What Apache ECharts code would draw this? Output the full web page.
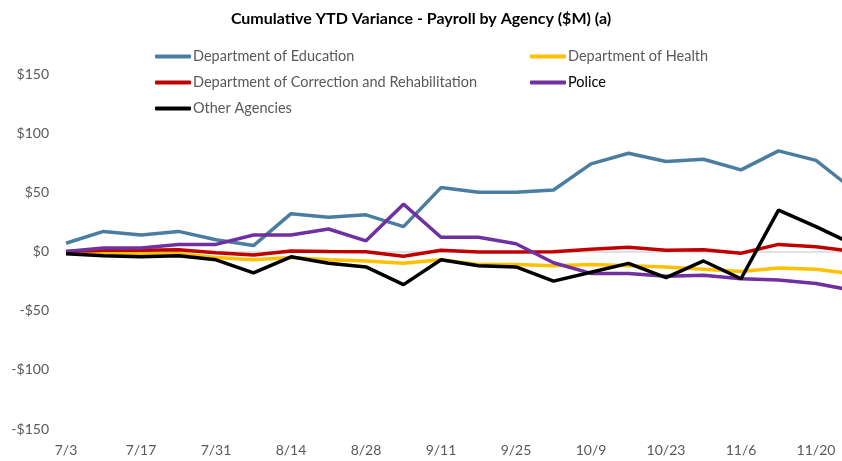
<!DOCTYPE html>
<html>
<head>
<meta charset="utf-8">
<script src="https://cdn.jsdelivr.net/npm/echarts@6/dist/echarts.min.js"></script>
<style>
  html, body { margin: 0; padding: 0; background: #fff; }
  #chart { width: 842px; height: 461px; }
</style>
</head>
<body>
<div id="chart"></div>
<script>
// weekly dates (last week falls just past the right edge)
const weeks = ["7/3", "7/10", "7/17", "7/24", "7/31", "8/7", "8/14", "8/21", "8/28", "9/4",
  "9/11", "9/18", "9/25", "10/2", "10/9", "10/16", "10/23", "10/30", "11/6", "11/13", "11/20", "11/27"];

const education = [7, 17, 14, 17, 10, 5, 32, 29, 31, 21, 54, 50, 50, 52, 74, 83, 76, 78, 69, 85, 77, 52];
const health = [-1, -1, -2, -2, -5, -7, -5, -7, -8, -10, -7, -11, -11, -12, -11, -12, -13, -15, -17, -14, -15, -19];
const correction = [0, 1, 1, 1.5, -1, -3, 0.5, 0, -0.3, -4, 1, -0.5, -0.5, -0.3, 2, 3.5, 1, 1.5, -1.5, 6, 4, 0];
const police = [0, 3, 3, 6, 6, 14, 14, 19, 9, 40, 12, 12, 6.5, -9.5, -18.5, -18.5, -21, -20, -23, -24, -27, -33];
const other = [-2, -3.5, -4.5, -3.5, -7, -18, -4.5, -10, -13, -28, -7, -12, -13, -25, -17.5, -10, -22, -8, -23, 35, 21, 6];

const names = ["Department of Education", "Department of Health",
  "Department of Correction and Rehabilitation", "Police", "Other Agencies"];
const colors = ["#4A7EA0", "#FFC000", "#C00000", "#7030A0", "#000000"];
const values = [education, health, correction, police, other];

const font = "Lato";
const chart = echarts.init(document.getElementById("chart"));

const legendPos = [
  { left: 155, top: 49 }, { left: 530, top: 49 },
  { left: 155, top: 75 }, { left: 530, top: 75 },
  { left: 155, top: 101 }
];

chart.setOption({
  animation: false,
  title: {
    text: "Cumulative YTD Variance - Payroll by Agency ($M) (a)",
    left: "center",
    top: 6,
    textStyle: { fontFamily: font, fontWeight: "bold", fontSize: 16, color: "#000" }
  },
  legend: names.map((n, i) => ({
    data: [n],
    left: legendPos[i].left,
    top: legendPos[i].top,
    icon: "roundRect",
    itemWidth: 36,
    itemHeight: 4,
    padding: 0,
    textStyle: {
      fontFamily: font, fontSize: 14.5,
      color: n === "Police" ? "#000" : "#595959",
      padding: [0, 0, 0, -3]
    }
  })),
  grid: {
    left: 66, width: 787.5, top: 74, bottom: 32,
    containLabel: false, outerBoundsMode: "none"
  },
  xAxis: {
    type: "category",
    data: weeks,
    boundaryGap: false,
    axisLine: { show: false },
    axisTick: { show: false },
    axisLabel: { interval: 1, margin: 14, fontFamily: font, fontSize: 14, color: "#595959" }
  },
  yAxis: {
    type: "value",
    min: -150,
    max: 150,
    interval: 50,
    axisLine: { show: false },
    axisTick: { show: false },
    axisLabel: {
      margin: 17, fontFamily: font, fontSize: 14, color: "#595959",
      formatter: v => (v < 0 ? "-$" : "$") + Math.abs(v)
    },
    splitLine: {
      show: true,
      lineStyle: {
        width: 1.5,
        color: ["transparent", "transparent", "transparent", "#D9D9D9", "transparent", "transparent", "transparent"]
      }
    }
  },
  series: names.map((n, i) => ({
    name: n,
    type: "line",
    data: values[i],
    showSymbol: false,
    symbol: "none",
    color: colors[i],
    lineStyle: { width: 3.5, color: colors[i] }
  }))
});
</script>
</body>
</html>
